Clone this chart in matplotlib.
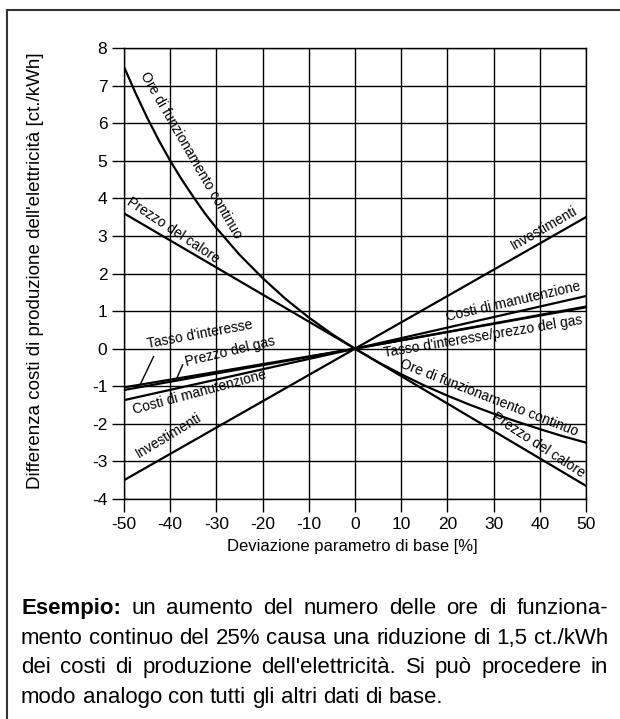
import numpy as np
import matplotlib
matplotlib.use("Agg")
import matplotlib.pyplot as plt
from matplotlib.lines import Line2D

plt.rcParams['font.family'] = ['Liberation Sans', 'DejaVu Sans']
plt.rcParams['axes.unicode_minus'] = False

# ---------------- data ----------------
x_curve = [-50, -47.5, -45, -42.5, -40, -37.5, -35, -32.5, -30, -25, -20, -15, -10, -5, 0,
           5, 10, 15, 20, 25, 30, 35, 40, 45, 50]
ore_funzionamento = [7.5, 6.8, 6.15, 5.55, 5.0, 4.5, 4.04, 3.6, 3.21, 2.5, 1.88, 1.32, 0.83, 0.39, 0.0,
                     -0.36, -0.68, -0.98, -1.25, -1.5, -1.73, -1.94, -2.14, -2.33, -2.5]

x_lin = [-50, 0, 50]
prezzo_calore = [3.6, 0.0, -3.65]
investimenti = [-3.5, 0.0, 3.5]
costi_manutenzione = [-1.37, 0.0, 1.4]
tasso_interesse = [-1.03, 0.0, 1.12]
prezzo_gas = [-1.1, 0.0, 1.1]

x_ticks = [-50, -40, -30, -20, -10, 0, 10, 20, 30, 40, 50]
y_ticks = [-4, -3, -2, -1, 0, 1, 2, 3, 4, 5, 6, 7, 8]

# ---------------- figure ----------------
W, H = 620, 719
fig = plt.figure(figsize=(W / 100, H / 100), dpi=100)

def fx(px):
    return px / W

def fy(py):
    return 1 - py / H

ax = fig.add_axes([fx(124), fy(499), fx(586) - fx(124), fy(48) - fy(499)])
ax.set_xlim(-50, 50)
ax.set_ylim(-4, 8)
ax.set_xticks(x_ticks)
ax.set_yticks(y_ticks)
ax.set_xticklabels([str(v) for v in x_ticks])
ax.set_yticklabels([str(v) for v in y_ticks])
ax.grid(True, color='black', linewidth=1.0)
ax.set_axisbelow(True)
for s in ax.spines.values():
    s.set_color('black')
    s.set_linewidth(1.0)
ax.tick_params(axis='both', direction='out', length=9, width=1.0,
               labelsize=12.5, color='black')
ax.tick_params(axis='y', pad=3)
ax.tick_params(axis='x', pad=4)

lw = 1.6
ax.plot(x_curve, ore_funzionamento, color='black', lw=lw)
ax.plot(x_lin, prezzo_calore, color='black', lw=lw)
ax.plot(x_lin, investimenti, color='black', lw=lw)
ax.plot(x_lin, costi_manutenzione, color='black', lw=lw)
ax.plot(x_lin, tasso_interesse, color='black', lw=lw)
ax.plot(x_lin, prezzo_gas, color='black', lw=lw)

fs = 10
labels = [
    ("Ore di funzionamento continuo", -35.6, 5.15, -60),
    ("Prezzo del calore", -39.3, 3.15, -33.5),
    ("Investimenti", 41.0, 3.2, 29.7),
    ("Costi di manutenzione", 34.3, 1.25, 13),
    ("Tasso d'interesse/prezzo del gas", 27.8, 0.32, 9.5),
    ("Ore di funzionamento continuo", 28.9, -1.30, -21.3),
    ("Prezzo del calore", 39.7, -2.55, -33),
    ("Tasso d'interesse", -33.6, 0.37, 10.5),
    ("Prezzo del gas", -27.1, -0.08, 13.4),
    ("Costi di manutenzione", -33.6, -1.17, 15),
    ("Investimenti", -40.3, -2.31, 31),
]
for txt, lx, ly, rot in labels:
    ax.text(lx, ly, txt, fontsize=fs, rotation=rot, rotation_mode='anchor',
            ha='center', va='center', color='black')

# leader lines from labels to their curves
xa = -46.5
ax.plot([-43.6, xa], [-0.21, np.interp(xa, x_lin, tasso_interesse)],
        color='black', lw=1.0)
xb = -38.8
ax.plot([-37.3, xb], [-0.43, np.interp(xb, x_lin, prezzo_gas)],
        color='black', lw=1.0)

# axis labels
fig.text(fx(36), fy(271), "Differenza costi di produzione dell'elettricità [ct./kWh]",
         rotation=90, ha='center', va='center', fontsize=13.5)
fig.text(fx(352), fy(546), "Deviazione parametro di base [%]",
         ha='center', va='center', fontsize=12)

# frame
fig.add_artist(Line2D([fx(7), fx(620)], [fy(10), fy(10)], color='#333333', lw=1.5))
fig.add_artist(Line2D([fx(7), fx(7)], [fy(10), fy(719)], color='#333333', lw=1.5))

# example paragraph (justified)
para = [
    ("Esempio: un aumento del numero delle ore di funziona-", True),
    ("mento continuo del 25% causa una riduzione di 1,5 ct./kWh", True),
    ("dei costi di produzione dell'elettricità. Si può procedere in", True),
    ("modo analogo con tutti gli altri dati di base.", False),
]
baselines = [614, 644, 673, 703]
left_px, right_px = 21, 608
fig.canvas.draw()
r = fig.canvas.get_renderer()

def width(s, size, bold=False):
    t = fig.text(0, 0, s, fontsize=size, fontweight='bold' if bold else 'normal')
    w = t.get_window_extent(renderer=r).width
    t.remove()
    return w

pfs = 14 * (right_px - left_px) / width(para[1][0], 14)
space_w = width("a a", pfs) - width("aa", pfs)

for (line, justify), yy in zip(para, baselines):
    words = line.split(" ")
    bolds = [w == "Esempio:" for w in words]
    ws = [width(w, pfs, b) for w, b in zip(words, bolds)]
    if justify and len(words) > 1:
        gap = (right_px - left_px - sum(ws)) / (len(words) - 1)
    else:
        gap = space_w
    xpos = left_px
    for w, b, wd in zip(words, bolds, ws):
        fig.text(fx(xpos), fy(yy), w, fontsize=pfs,
                 fontweight='bold' if b else 'normal', ha='left', va='baseline')
        xpos += wd + gap

fig.savefig("out.png", dpi=100)
